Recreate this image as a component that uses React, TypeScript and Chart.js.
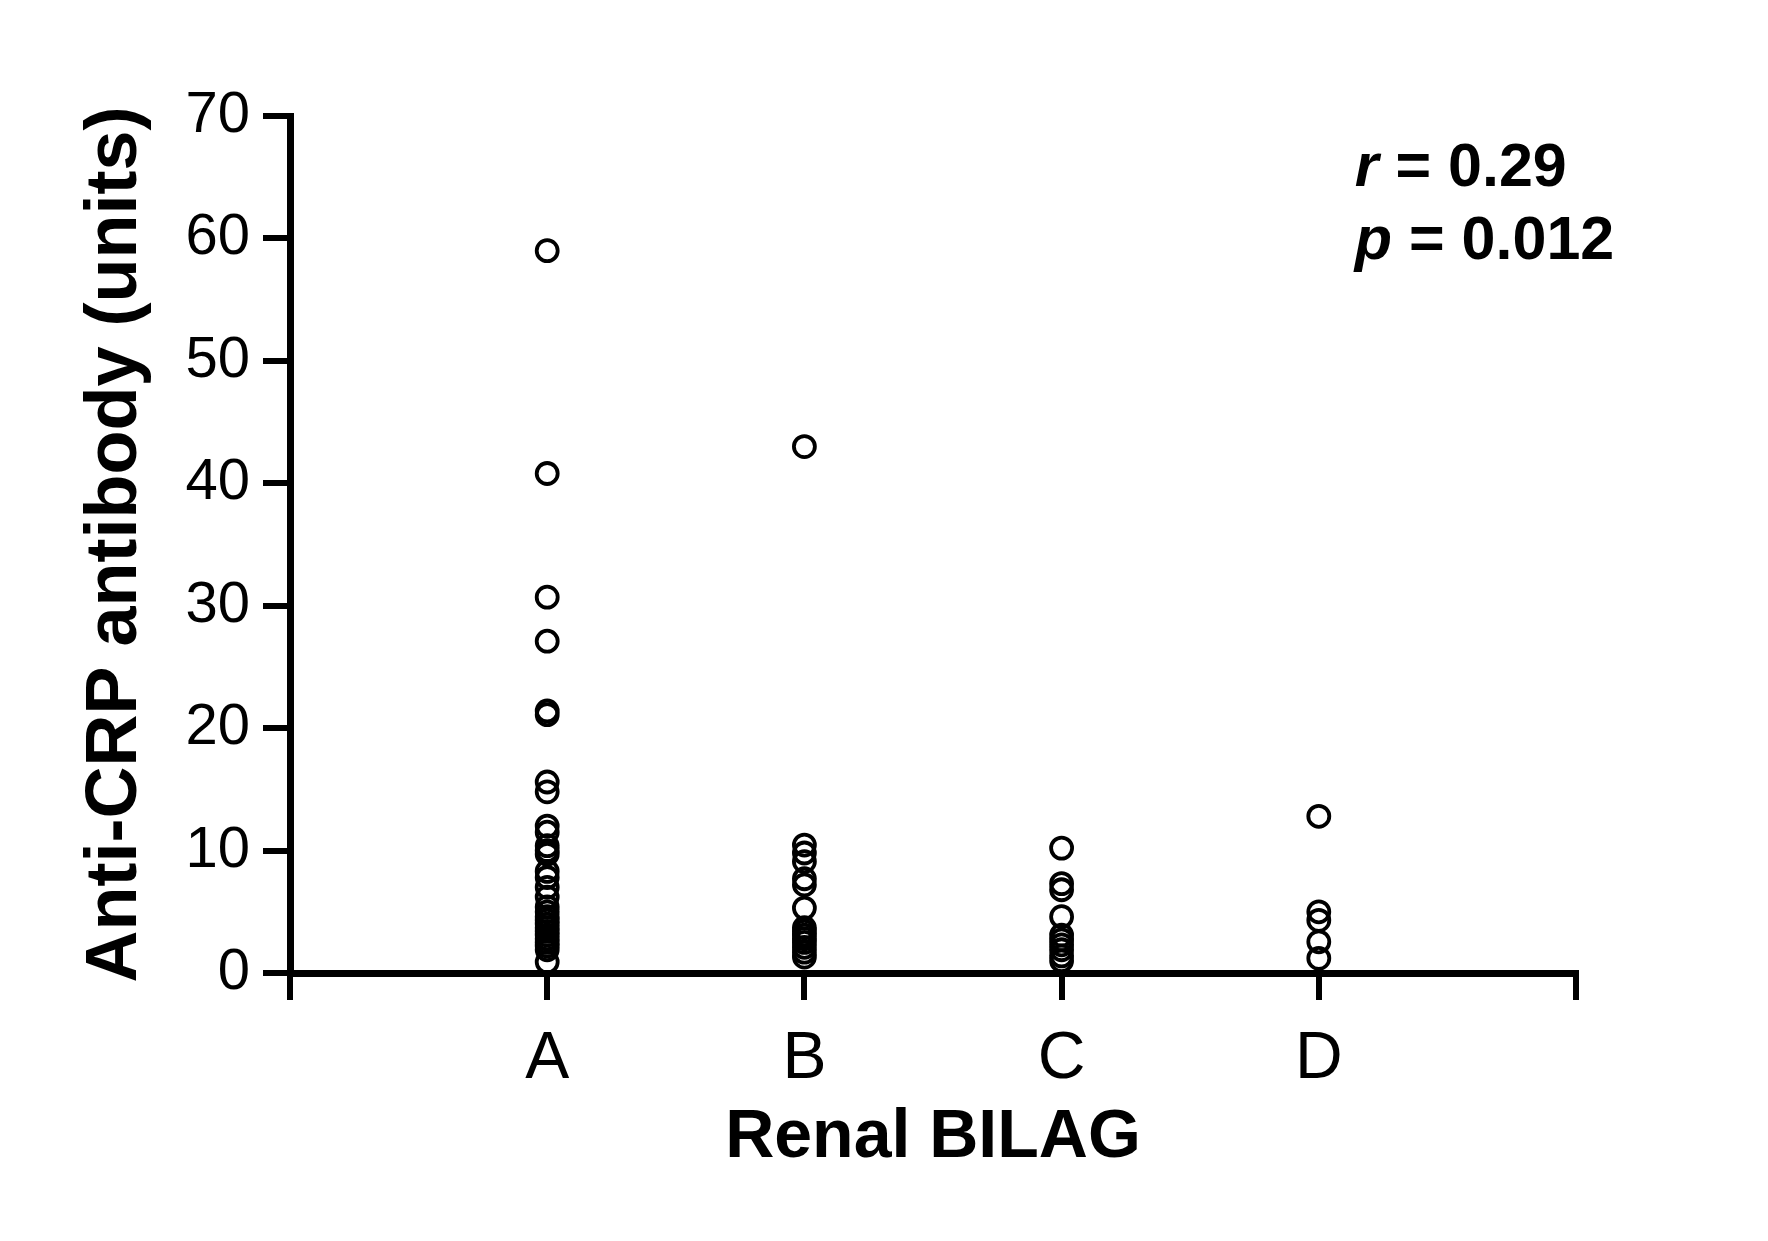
import React, { useEffect, useRef } from "react";
import { Chart, registerables } from "chart.js";

Chart.register(...registerables);

// Category tick labels (positions 0..5 on the x scale; groups sit at 1..4)
const xTickLabels: string[] = ["", "A", "B", "C", "D", ""];
const groupPositions: number[] = [1, 2, 3, 4];

// Anti-CRP antibody values (units) per renal BILAG group
const groupA: number[] = [
  59.0, 40.8, 30.7, 27.1, 21.4, 21.1, 15.6, 14.8, 12.0, 11.5, 10.4, 10.0, 9.7,
  8.3, 7.8, 7.0, 6.2, 5.4, 5.0, 4.6, 4.3, 4.0, 3.7, 3.4, 3.1, 2.8, 2.5, 2.2,
  1.9, 0.9,
];
const groupB: number[] = [
  43.0, 10.45, 9.8, 9.1, 7.7, 7.2, 5.3, 3.7, 3.4, 3.1, 2.8, 2.5, 2.1, 1.7, 1.3,
];
const groupC: number[] = [10.2, 7.3, 6.8, 4.6, 3.1, 2.7, 2.3, 1.9, 1.4, 1.0];
const groupD: number[] = [12.8, 5.0, 4.3, 2.55, 1.2];

const yTicks: number[] = [0, 10, 20, 30, 40, 50, 60, 70];

const statLines: { sym: string; rest: string }[] = [
  { sym: "r", rest: " = 0.29" },
  { sym: "p", rest: " = 0.012" },
];
// annotation anchor in data units
const statX = 4.14;
const statY: number[] = [64.3, 58.3];

const FONT = "'Liberation Sans', Arial, Helvetica, sans-serif";

export default function App() {
  const ref = useRef<HTMLCanvasElement | null>(null);

  useEffect(() => {
    if (!ref.current) return;
    const groups = [groupA, groupB, groupC, groupD];
    const points: { x: number; y: number }[] = [];
    groups.forEach((g, i) => {
      g.forEach((v) => points.push({ x: groupPositions[i], y: v }));
    });

    const statPlugin = {
      id: "statText",
      afterDraw(chart: any) {
        const ctx = chart.ctx;
        const xs = chart.scales.x;
        const ys = chart.scales.y;
        ctx.save();
        ctx.fillStyle = "#000";
        ctx.textBaseline = "alphabetic";
        ctx.textAlign = "left";
        statLines.forEach((ln, i) => {
          const px = xs.getPixelForValue(statX);
          const py = ys.getPixelForValue(statY[i]);
          ctx.font = `italic bold 61px ${FONT}`;
          ctx.fillText(ln.sym, px, py);
          const w = ctx.measureText(ln.sym).width;
          ctx.font = `bold 61px ${FONT}`;
          ctx.fillText(ln.rest, px + w, py);
        });
        ctx.restore();
      },
    };

    const gridOpts = {
      display: true,
      drawOnChartArea: false,
      drawTicks: true,
      tickLength: 27,
      tickWidth: 6,
      lineWidth: 6,
      color: "#000",
      tickColor: "#000",
    };
    const borderOpts = { display: true, width: 7, color: "#000" };

    const chart = new Chart(ref.current, {
      type: "scatter",
      data: {
        datasets: [
          {
            data: points,
            pointStyle: "circle",
            pointRadius: 10.5,
            pointHoverRadius: 10.5,
            borderColor: "#000",
            borderWidth: 3.8,
            backgroundColor: "rgba(0,0,0,0)",
          },
        ],
      },
      options: {
        animation: false,
        responsive: false,
        devicePixelRatio: 1,
        layout: { padding: { left: 0, right: 192, top: 116, bottom: 0 } },
        plugins: {
          legend: { display: false },
          tooltip: { enabled: false },
        },
        events: [],
        scales: {
          x: {
            type: "linear",
            min: 0,
            max: 5,
            ticks: {
              stepSize: 1,
              autoSkip: false,
              maxRotation: 0,
              padding: 20,
              color: "#000",
              font: { family: FONT, size: 66 },
              callback: (v: any) => xTickLabels[Number(v)] ?? "",
            },
            grid: gridOpts,
            border: borderOpts,
            title: {
              display: true,
              text: "Renal BILAG",
              color: "#000",
              font: { family: FONT, size: 68, weight: "bold" },
              padding: { top: 0, bottom: 62 },
            },
            afterFit: (s: any) => {
              s.height = 268;
            },
          },
          y: {
            type: "linear",
            min: 0,
            max: 70,
            afterBuildTicks: (s: any) => {
              s.ticks = yTicks.map((v) => ({ value: v }));
            },
            ticks: {
              padding: 13,
              color: "#000",
              font: { family: FONT, size: 58 },
            },
            grid: gridOpts,
            border: borderOpts,
            title: {
              display: true,
              text: "Anti-CRP antibody (units)",
              color: "#000",
              font: { family: FONT, size: 72, weight: "bold" },
              padding: { top: 73, bottom: 0 },
            },
            afterFit: (s: any) => {
              s.width = 290;
            },
          },
        },
      } as any,
      plugins: [statPlugin],
    });
    return () => chart.destroy();
  }, []);

  return (
    <div
      style={{
        position: "fixed",
        left: 0,
        top: 0,
        width: 1768,
        height: 1241,
        background: "#fff",
      }}
    >
      <canvas ref={ref} width={1768} height={1241} />
    </div>
  );
}
